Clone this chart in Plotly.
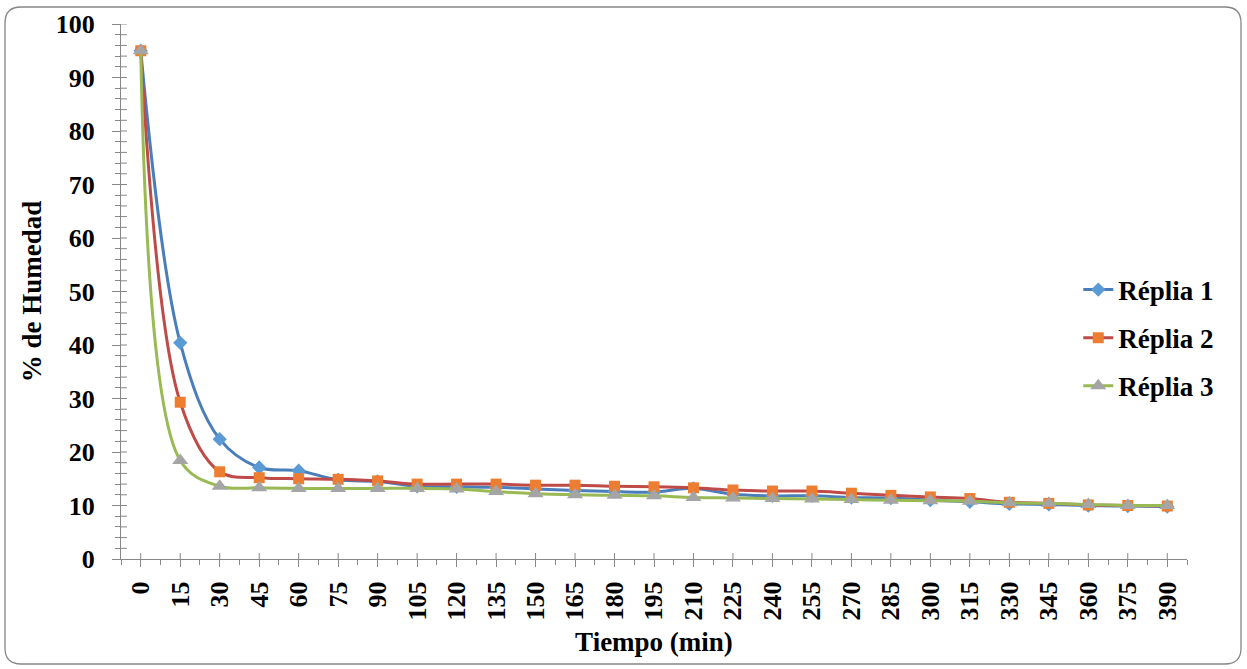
import plotly.graph_objects as go

# Tiempo de secado (min) y % de humedad de cada réplica
tiempo = [0, 15, 30, 45, 60, 75, 90, 105, 120, 135, 150, 165, 180, 195,
          210, 225, 240, 255, 270, 285, 300, 315, 330, 345, 360, 375, 390]
replia_1 = [95, 40.4, 22.4, 17.1, 16.5, 14.8, 14.5, 13.6, 13.5, 13.4, 13.1, 12.8, 12.6, 12.5,
            13.2, 12.1, 11.8, 11.8, 11.5, 11.4, 11.0, 10.7, 10.3, 10.2, 10.0, 9.9, 9.8]
replia_2 = [95, 29.3, 16.3, 15.2, 15.0, 14.9, 14.6, 14.0, 14.0, 14.0, 13.8, 13.8, 13.6, 13.5,
            13.3, 12.9, 12.7, 12.7, 12.3, 11.9, 11.6, 11.3, 10.6, 10.4, 10.1, 10.0, 9.9]
replia_3 = [95, 18.4, 13.6, 13.3, 13.2, 13.2, 13.2, 13.2, 13.1, 12.6, 12.2, 12.0, 11.9, 11.8,
            11.5, 11.4, 11.3, 11.2, 11.1, 11.0, 10.9, 10.8, 10.5, 10.4, 10.2, 10.0, 10.0]
y_ticks = list(range(0, 101, 10))

FONT = "Liberation Serif"
AXIS = "#878787"

# plot-area geometry in pixels
W, H = 1247, 669
ML, MR, MT, MB = 121, 60, 24, 110
PW, PH = W - ML - MR, H - MT - MB

fig = go.Figure()
series = [
    ("Réplia 1", replia_1, "#4A7EBB", "#5B9BD5", "diamond", 11),
    ("Réplia 2", replia_2, "#BE4B48", "#ED7D31", "square", 11),
    ("Réplia 3", replia_3, "#98B954", "#A5A5A5", "triangle-up", 14),
]
for name, vals, lc, mc, sym, sz in series:
    fig.add_trace(go.Scatter(
        x=tiempo, y=vals, name=name, legendgroup=name,
        mode="lines+markers",
        line=dict(color=lc, width=3, shape="spline", smoothing=1),
        marker=dict(color=mc, symbol=sym, size=sz),
    ))

shapes = []
# inward half of the crossing tick marks
for t in tiempo:
    shapes.append(dict(type="line", xref="x", yref="paper", x0=t, x1=t,
                       y0=0, y1=6 / PH, line=dict(color=AXIS, width=1)))
for v in range(2, 101, 2):
    shapes.append(dict(type="line", xref="paper", yref="y", x0=0, x1=6 / PW,
                       y0=v, y1=v, line=dict(color=AXIS, width=1)))

# rounded chart border
x0, x1 = (5 - ML) / PW, (1241 - ML) / PW
yt, yb = (H - MB - 7) / PH, (H - MB - 664) / PH
rx, ry = 16 / PW, 16 / PH
path = (f"M {x0+rx},{yt} L {x1-rx},{yt} Q {x1},{yt} {x1},{yt-ry} "
        f"L {x1},{yb+ry} Q {x1},{yb} {x1-rx},{yb} L {x0+rx},{yb} "
        f"Q {x0},{yb} {x0},{yb+ry} L {x0},{yt-ry} Q {x0},{yt} {x0+rx},{yt} Z")
shapes.append(dict(type="path", xref="paper", yref="paper", path=path,
                   line=dict(color="#868686", width=1.3)))

fig.update_layout(
    width=W, height=H,
    margin=dict(l=ML, r=MR, t=MT, b=MB, autoexpand=False),
    paper_bgcolor="white", plot_bgcolor="white",
    font=dict(family=FONT, color="black", size=26),
    shapes=shapes,
    legend=dict(x=0.898, y=0.413, xanchor="left", yanchor="middle",
                font=dict(family=FONT, size=27, color="black", weight="bold"),
                tracegroupgap=10, bgcolor="rgba(0,0,0,0)"),
    xaxis=dict(
        range=[-7.5, 397.5], tickmode="array", tickvals=tiempo,
        ticktext=[str(t) for t in tiempo], tickangle=-90,
        ticks="outside", ticklen=7, tickcolor=AXIS, tickwidth=1,
        minor=dict(tick0=-7.5, dtick=15, ticks="outside", ticklen=5,
                   tickcolor=AXIS, tickwidth=1, showgrid=False),
        showline=True, linecolor=AXIS, linewidth=1.3, showgrid=False, zeroline=False,
        tickfont=dict(family=FONT, size=26, weight="bold"),
        ticklabelstandoff=4,
        title=dict(text="Tiempo (min)", standoff=12,
                   font=dict(family=FONT, size=27, weight="bold")),
    ),
    yaxis=dict(
        range=[0, 100], tickmode="array", tickvals=y_ticks,
        ticks="outside", ticklen=8, tickcolor=AXIS, tickwidth=1,
        minor=dict(dtick=2, ticks="outside", ticklen=5,
                   tickcolor=AXIS, tickwidth=1, showgrid=False),
        showline=True, linecolor=AXIS, linewidth=1.3, showgrid=False, zeroline=False,
        tickfont=dict(family=FONT, size=26, weight="bold"),
        ticklabelstandoff=12,
        title=dict(text="% de Humedad", standoff=6,
                   font=dict(family=FONT, size=27, weight="bold")),
    ),
)

fig.write_html("out.html")
